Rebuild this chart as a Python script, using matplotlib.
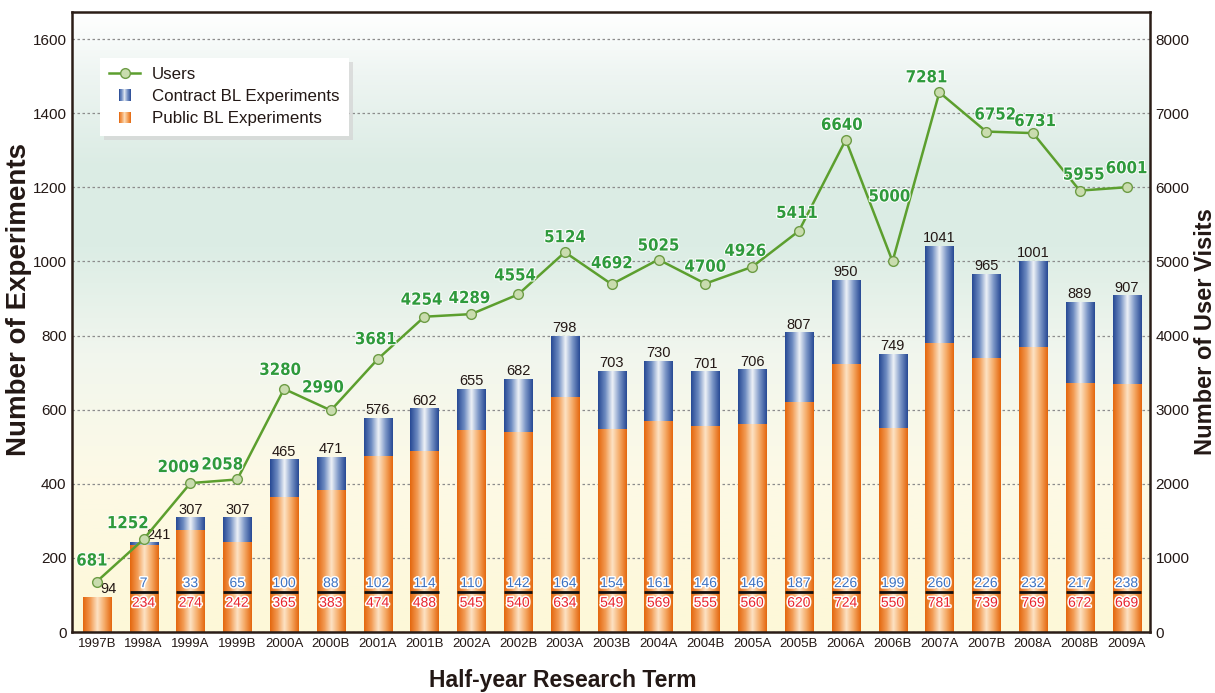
import numpy as np
import matplotlib
matplotlib.use('Agg')
import matplotlib.pyplot as plt
import matplotlib.patheffects as pe
from matplotlib.colors import LinearSegmentedColormap
from matplotlib.legend_handler import HandlerBase
from matplotlib.patches import Rectangle
from matplotlib.lines import Line2D

terms = ['1997B', '1998A', '1999A', '1999B', '2000A', '2000B', '2001A', '2001B',
         '2002A', '2002B', '2003A', '2003B', '2004A', '2004B', '2005A', '2005B',
         '2006A', '2006B', '2007A', '2007B', '2008A', '2008B', '2009A']
public = [94, 234, 274, 242, 365, 383, 474, 488, 545, 540, 634, 549, 569, 555,
          560, 620, 724, 550, 781, 739, 769, 672, 669]
contract = [0, 7, 33, 65, 100, 88, 102, 114, 110, 142, 164, 154, 161, 146,
            146, 187, 226, 199, 260, 226, 232, 217, 238]
users = [681, 1252, 2009, 2058, 3280, 2990, 3681, 4254, 4289, 4554, 5124, 4692,
         5025, 4700, 4926, 5411, 6640, 5000, 7281, 6752, 6731, 5955, 6001]

# label offsets (pixels) for the user numbers
user_off = [(-5, 21), (-16, 16), (-12, 16), (-15, 15), (-4, 19), (-8, 23), (-2, 20),
            (-3, 17), (-2, 16), (-3, 19), (0, 15), (0, 21), (0, 14), (0, 17),
            (-7, 16), (-2, 18), (-4, 15), (-3, 65), (-13, 15), (9, 17), (2, 12),
            (4, 16), (0, 19)]

plt.rcParams['font.family'] = ['Liberation Sans', 'DejaVu Sans']

orange = LinearSegmentedColormap.from_list(
    'orange', ['#e4670e', '#f29a52', '#fde3c4', '#f5a965', '#e4670e'])
blue = LinearSegmentedColormap.from_list(
    'blue', ['#274994', '#6d8bc1', '#eef2f7', '#7b96c7', '#274994'])
bg = LinearSegmentedColormap.from_list(
    'bg', [(0.0, '#fdf8d8'), (0.25, '#fdfae6'), (0.45, '#f1f6ee'),
           (0.62, '#dcede5'), (0.75, '#dbece4'), (0.9, '#eef5f2'), (1.0, '#ffffff')])

fig = plt.figure(figsize=(12.15, 6.93), dpi=100)
ax = fig.add_axes([72 / 1215, 61 / 693, 1078 / 1215, 620 / 693])
x = np.arange(len(terms))
xlim = (-0.53, 22.5)
ylim = (0, 1673)

ax.imshow(np.linspace(0, 1, 256).reshape(-1, 1), extent=(*xlim, *ylim),
          aspect='auto', cmap=bg, origin='lower', zorder=0)

bars_pub = ax.bar(x, public, 0.6, color='none', zorder=2)
bars_con = ax.bar(x, contract, 0.6, bottom=public, color='none', zorder=2)
grad = np.linspace(0, 1, 120).reshape(1, -1)
for bars, cm in ((bars_pub, orange), (bars_con, blue)):
    for b in bars:
        if b.get_height() <= 0:
            continue
        ax.imshow(grad, extent=(b.get_x(), b.get_x() + b.get_width(),
                                b.get_y(), b.get_y() + b.get_height()),
                  aspect='auto', cmap=cm, zorder=2)

ax.set_xlim(*xlim)
ax.set_ylim(*ylim)
ax.set_yticks(range(0, 1601, 200))
ax.set_xticks(x)
ax.set_xticklabels(terms, fontsize=9.5, color='#231815')
ax.tick_params(axis='y', length=0, labelsize=11, pad=4, colors='#231815')
ax.tick_params(axis='x', length=0, pad=4)
ax.yaxis.grid(True, linestyle=(0, (2, 2)), color='#8c8c8c', lw=0.9)
ax.set_axisbelow(True)
for s in ax.spines.values():
    s.set_color('#2b1d17')
    s.set_linewidth(1.8)

# totals and the small contract / public numbers
white = [pe.withStroke(linewidth=2.2, foreground='white')]
for i, b in enumerate(bars_pub):
    tot = public[i] + contract[i]
    dx = 0.24 if i == 0 else (0.32 if i == 1 else 0)
    ax.text(x[i] + dx, tot + 3, str(tot), ha='center', va='bottom',
            fontsize=10.5, color='#231815', zorder=5)
    if contract[i] > 0:
        ax.hlines(107, b.get_x(), b.get_x() + b.get_width(), color='#111111',
                  lw=2, zorder=4)
        ax.text(x[i], 132, str(contract[i]), ha='center', va='center',
                fontsize=10, color='#3c72c2', path_effects=white, zorder=5)
        ax.text(x[i], 79, str(public[i]), ha='center', va='center',
                fontsize=10, color='#e8222c', path_effects=white, zorder=5)

ax2 = ax.twinx()
ax2.set_ylim(ylim[0] * 5, ylim[1] * 5)
ax2.set_yticks(range(0, 8001, 1000))
ax2.tick_params(axis='y', length=0, labelsize=11, pad=4, colors='#231815')
for s in ax2.spines.values():
    s.set_visible(False)
ax2.plot(x, users, color='#5c9f2e', lw=1.8, marker='o', ms=7,
         mfc='#c9dcae', mec='#6d9c45', mew=1, zorder=3)
for i, u in enumerate(users):
    ax2.annotate(str(u), (x[i], u), xytext=user_off[i], textcoords='offset pixels',
                 ha='center', va='center', fontsize=12, fontweight='bold',
                 fontstretch='condensed', color='#2f9a3c',
                 family=['DejaVu Sans'],
                 path_effects=[pe.withStroke(linewidth=1.5, foreground='white')])

fig.text(563 / 1215, 1 - 681 / 693, 'Half-year Research Term', ha='center',
         va='center', fontsize=16.5, fontweight='bold', color='#231815')
fig.text(19 / 1215, 1 - 300 / 693, 'Number of Experiments', ha='center',
         va='center', rotation=90, fontsize=20, fontweight='bold', color='#231815')
fig.text(1205 / 1215, 1 - 332 / 693, 'Number of User Visits', ha='center',
         va='center', rotation=90, fontsize=17, fontweight='bold', color='#231815')


class GradHandler(HandlerBase):
    def __init__(self, cm):
        super().__init__()
        self.cm = cm

    def create_artists(self, legend, orig_handle, xdescent, ydescent, width,
                       height, fontsize, trans):
        n = 14
        side = height * 1.0
        x0 = -xdescent + (width - side) / 2
        arts = []
        for k in range(n):
            arts.append(Rectangle((x0 + k * side / n, -ydescent),
                                  side / n * 1.05, side,
                                  facecolor=self.cm((k + 0.5) / n),
                                  edgecolor='none', transform=trans))
        return arts


h_users = Line2D([], [], color='#5c9f2e', lw=1.8, marker='o', ms=7,
                 mfc='#c9dcae', mec='#6d9c45')
h_con = Rectangle((0, 0), 1, 1)
h_pub = Rectangle((0, 0), 1, 1)
leg = ax2.legend([h_users, h_con, h_pub],
                 ['Users', 'Contract BL Experiments', 'Public BL Experiments'],
                 handler_map={h_con: GradHandler(blue), h_pub: GradHandler(orange)},
                 loc='upper left', bbox_to_anchor=(0.026, 0.926), borderaxespad=0,
                 fontsize=12.2, handlelength=1.8, handletextpad=0.7,
                 labelspacing=0.42, borderpad=0.55, fancybox=False,
                 framealpha=1, edgecolor='none',
                 shadow={'ox': 3, 'oy': -3, 'facecolor': '#d4d4d4',
                         'edgecolor': 'none', 'alpha': 0.7})
for t in leg.get_texts():
    t.set_color('#231815')

fig.savefig('out.png', dpi=100)
